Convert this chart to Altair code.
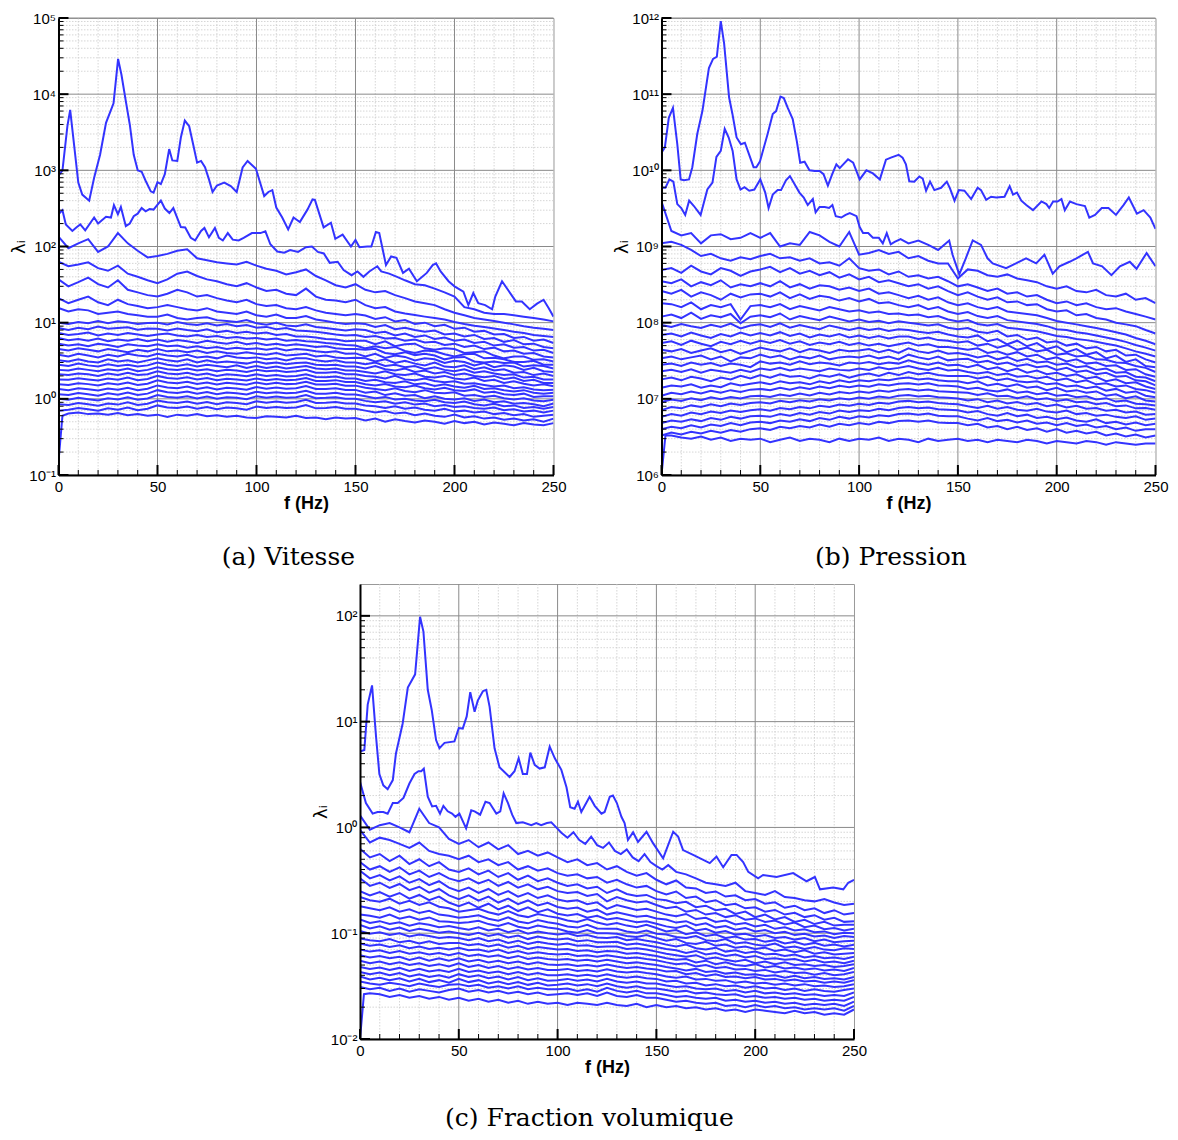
import json
import altair as alt
import pandas as pd

F_GRID = list(range(0, 251, 5))

# ---------------- (a) Vitesse ----------------
vit_mode1 = [(0, 850), (2, 1000), (4.5, 3800), (5.9, 6200), (10, 690), (12, 480), (15.5, 400), (18, 800),
             (21, 1600), (24, 4200), (27.8, 7600), (30.1, 29000), (31.8, 18000), (34, 8100), (36, 4000),
             (38, 1600), (40, 1000), (42, 960), (44, 730), (46.6, 530), (48, 510), (50, 700), (51.7, 660),
             (53.7, 890), (55.9, 1900), (57.5, 1350), (60, 1330), (61.8, 2700), (63.8, 4500), (66, 3800),
             (68, 2200), (70, 1260), (72, 1330), (74, 1100), (76, 760), (77.8, 520), (80, 630), (83.7, 690),
             (87, 620), (90, 520), (93, 1090), (95.5, 1330), (99.7, 1050), (103.9, 460), (106, 520),
             (108, 550), (110, 325), (113, 240), (116, 168), (118.7, 240), (121.9, 210), (125.8, 307),
             (128.3, 415), (129.5, 410), (133.9, 178), (137.6, 205), (139.8, 126), (143.5, 143),
             (147.7, 100), (150, 122), (152, 98), (156, 100), (158, 100), (160.3, 155), (162, 150),
             (165.4, 57), (168, 74), (170.7, 71), (174, 45), (177, 51), (181, 35), (186, 45), (189, 57),
             (190.7, 60), (193, 47), (197, 35), (200, 30), (204.5, 25.5), (207, 17), (209.5, 24.5),
             (212, 18), (215.5, 17), (219, 15), (220.6, 22), (224, 35), (227.4, 26), (231, 19), (234, 19),
             (238, 15), (241.7, 17.8), (245, 20), (247.6, 15.5), (250, 12)]
vit_mode2 = [(0, 265), (2, 300), (3.7, 195), (7, 160), (9, 178), (11, 195), (13.5, 163), (18, 240), (20, 200),
             (24, 245), (26.5, 240), (28, 350), (30, 265), (31.5, 330), (34, 185), (36, 200), (38, 250),
             (40, 270), (42, 320), (44, 290), (46, 310), (48, 305), (51.7, 400), (53.7, 315), (56, 275),
             (58, 320), (61.8, 180), (64, 178), (66.8, 130), (69, 120), (72, 160), (73.7, 175), (76, 132),
             (79, 175), (81, 130), (83, 120), (85.5, 150), (88, 123), (91, 120), (93.5, 130), (97.7, 150),
             (102, 150), (104.5, 158), (107, 107), (110.5, 86), (114, 83), (117, 90), (121, 85), (125, 98),
             (128, 100), (131, 85), (134, 81), (137, 61), (141, 63), (144, 49), (148, 42), (151, 47),
             (154, 40), (157, 47), (161, 55), (163, 47), (167, 44), (171, 40), (175, 36), (180, 32),
             (185, 31), (190, 28), (195, 25), (200, 22), (205, 16), (210, 15), (215, 13.5), (220, 13),
             (225, 13), (230, 12.5), (235, 12), (240, 11.5), (245, 11), (250, 10.4)]
vit_modes_3_26 = [
    [135, 95, 110, 125, 85, 100, 150, 110, 88, 72, 75, 80, 88, 92, 70, 66, 62, 60, 58, 63,
     56, 51, 48, 43, 46, 50, 41, 36, 31, 29, 32, 27, 25, 26, 23, 21, 19, 18, 17, 15,
     13.5, 12.5, 11.5, 11, 10.5, 10, 9.5, 9, 8.6, 8.3, 8.0],
    [63, 55, 58, 62, 52, 48, 56, 44, 40, 36, 33, 37, 44, 47, 41, 37, 35, 32, 30, 33,
     29, 26, 27, 24, 23, 28, 22, 20, 19.5, 18.5, 20, 17, 15.5, 16, 14, 13.2, 12.6, 12, 11.5, 11,
     10.2, 9.6, 9.1, 8.8, 8.4, 8.0, 7.6, 7.3, 6.9, 6.7, 6.5],
    [37, 30, 34, 39, 32, 29, 36, 27, 25, 23, 22, 24, 27, 25, 22, 23, 21, 19.5, 18.5, 20,
     17.5, 16.5, 17, 15.5, 15, 16, 14.5, 13.5, 13, 12.5, 13, 12.4, 11.2, 11.8, 10.4, 10.8, 9.6, 10.0, 9.0, 9.4,
     8.3, 8.6, 7.6, 7.8, 7.0, 7.1, 6.3, 6.5, 5.8, 6.0, 5.4],
    [21, 18, 20, 22, 18.5, 17, 20, 17.5, 16.5, 15.5, 16, 17, 16, 15, 14.5, 15.5, 14, 13.5, 13, 14,
     12.5, 12, 12.8, 11.5, 11.5, 12.2, 11, 10.5, 10, 9.6, 9.8, 9.6, 8.8, 9.3, 8.2, 8.6, 8.0, 7.6, 7.9, 7.0,
     7.2, 6.6, 6.9, 6.1, 6.3, 5.6, 5.9, 5.2, 5.3, 4.8, 4.6],
    [15.6, 14, 15, 14.5, 13, 13.5, 14, 13, 12.5, 12, 12, 12.8, 11.5, 11, 11.5, 11.8, 10.8, 10.5, 10.2, 10.8,
     9.8, 9.4, 10, 9.2, 9.0, 9.5, 8.8, 8.5, 8.2, 7.9, 8.2, 8.0, 7.3, 7.6, 6.8, 7.2, 6.5, 6.8, 6.1, 6.4,
     5.8, 6.0, 5.4, 5.6, 5.0, 5.2, 4.7, 4.8, 4.3, 4.4, 4.0],
    [10, 9.6, 10.2, 9.8, 10.5, 9.8, 10.4, 10.1, 9.6, 9.9, 10, 9.5, 10.2, 9.6, 9.3, 9.8, 9.2, 9.6, 9.0, 9.3,
     8.6, 8.8, 8.2, 8.5, 7.9, 7.8, 7.6, 7.3, 7.0, 6.8, 6.9, 6.5, 6.7, 6.2, 6.3, 5.8, 6.0, 5.5, 5.6, 5.1,
     5.3, 4.8, 5.0, 4.5, 4.7, 4.2, 4.3, 3.9, 4.0, 3.6, 3.5],
    [8.5, 8.0, 8.6, 8.2, 8.9, 8.3, 8.5, 8.7, 8.1, 8.4, 8.3, 7.9, 8.4, 8.0, 7.7, 8.2, 7.5, 7.8, 7.3, 7.6,
     7.2, 7.4, 6.9, 7.1, 6.6, 6.6, 6.4, 6.1, 6.0, 5.7, 5.8, 5.8, 5.2, 5.7, 4.9, 5.2, 5.3, 4.6, 4.4, 4.6,
     4.5, 4.0, 4.1, 4.2, 3.7, 3.4, 3.6, 3.6, 3.25, 3.3, 3.1],
    [7.3, 6.9, 7.1, 7.4, 6.8, 7.2, 6.9, 7.3, 7.0, 6.7, 7.0, 7.2, 6.8, 6.6, 6.9, 6.5, 6.7, 6.3, 6.5, 6.2,
     6.3, 6.0, 6.2, 5.8, 5.9, 5.7, 5.6, 5.4, 5.3, 5.1, 5.0, 4.6, 4.9, 4.6, 4.8, 4.25, 4.0, 4.3, 4.2, 3.85,
     3.6, 3.85, 3.9, 3.4, 3.45, 3.3, 3.05, 3.05, 3.15, 2.8, 2.8],
    [6.3, 5.9, 6.1, 5.8, 6.2, 5.7, 6.0, 5.8, 6.1, 5.7, 6.0, 5.6, 5.9, 5.7, 5.4, 5.8, 5.5, 5.3, 5.6, 5.2,
     5.4, 5.1, 5.3, 5.0, 5.2, 5.0, 4.8, 4.9, 4.6, 4.5, 4.5, 4.4, 4.55, 4.0, 3.85, 4.1, 3.75, 3.9, 3.7, 3.3,
     3.5, 3.55, 3.1, 3.0, 3.1, 2.95, 3.0, 2.65, 2.75, 2.7, 2.5],
    [5.3, 5.0, 5.2, 4.9, 5.3, 5.1, 4.8, 5.2, 5.0, 4.9, 5.2, 4.9, 5.0, 4.7, 4.9, 4.6, 4.8, 4.5, 4.7, 4.5,
     4.6, 4.4, 4.6, 4.3, 4.5, 4.4, 4.2, 4.1, 4.2, 3.9, 3.95, 3.6, 3.9, 3.45, 3.7, 3.55, 3.2, 3.4, 3.3, 2.95,
     3.15, 3.05, 2.75, 2.95, 2.6, 2.75, 2.65, 2.4, 2.55, 2.3, 2.25],
    [4.5, 4.3, 4.6, 4.4, 4.2, 4.5, 4.3, 4.1, 4.4, 4.2, 4.5, 4.2, 4.3, 4.1, 4.3, 4.0, 4.2, 4.0, 3.9, 4.1,
     3.9, 3.8, 4.0, 3.7, 3.8, 3.9, 3.6, 3.7, 3.5, 3.4, 3.45, 3.4, 3.1, 3.3, 2.95, 3.15, 2.9, 2.75, 3.0, 2.65,
     2.6, 2.75, 2.45, 2.6, 2.35, 2.45, 2.2, 2.25, 2.05, 2.15, 2.0],
    [3.8, 3.6, 3.9, 3.7, 3.5, 3.8, 3.6, 3.9, 3.7, 3.6, 3.9, 3.7, 3.6, 3.8, 3.5, 3.6, 3.4, 3.7, 3.5, 3.4,
     3.5, 3.3, 3.4, 3.2, 3.4, 3.4, 3.2, 3.1, 3.2, 3.0, 3.0, 2.85, 3.0, 2.7, 2.8, 2.6, 2.7, 2.45, 2.6, 2.4,
     2.3, 2.45, 2.2, 2.3, 2.15, 2.05, 2.1, 1.9, 1.95, 1.8, 1.8],
    [3.2, 3.1, 3.3, 3.1, 3.0, 3.3, 3.1, 3.2, 3.0, 3.2, 3.4, 3.2, 3.1, 3.3, 3.0, 3.2, 3.0, 3.1, 3.0, 2.9,
     3.1, 2.9, 3.0, 2.85, 2.95, 3.0, 2.8, 2.75, 2.8, 2.65, 2.65, 2.5, 2.7, 2.45, 2.35, 2.5, 2.25, 2.35, 2.15, 2.25,
     2.05, 2.15, 2.0, 1.92, 2.0, 1.82, 1.9, 1.72, 1.78, 1.62, 1.62],
    [2.8, 2.7, 2.9, 2.75, 2.65, 2.85, 2.7, 2.8, 2.65, 2.75, 3.0, 2.8, 2.7, 2.85, 2.65, 2.8, 2.7, 2.6, 2.75, 2.55,
     2.7, 2.55, 2.65, 2.5, 2.6, 2.7, 2.5, 2.45, 2.5, 2.35, 2.35, 2.25, 2.15, 2.3, 2.1, 2.05, 2.15, 1.95, 1.9, 2.0,
     1.85, 1.8, 1.9, 1.72, 1.78, 1.62, 1.7, 1.58, 1.5, 1.55, 1.46],
    [2.4, 2.35, 2.5, 2.4, 2.3, 2.45, 2.35, 2.5, 2.3, 2.4, 2.6, 2.45, 2.4, 2.5, 2.35, 2.45, 2.3, 2.4, 2.35, 2.25,
     2.4, 2.3, 2.35, 2.25, 2.3, 2.4, 2.2, 2.2, 2.25, 2.1, 2.1, 2.0, 1.95, 1.85, 2.0, 1.8, 1.75, 1.85, 1.72, 1.65,
     1.7, 1.58, 1.6, 1.52, 1.45, 1.5, 1.38, 1.42, 1.33, 1.3, 1.32],
    [2.1, 2.05, 2.15, 2.1, 2.0, 2.15, 2.05, 2.2, 2.05, 2.1, 2.3, 2.15, 2.1, 2.2, 2.05, 2.15, 2.0, 2.1, 2.05, 1.98,
     2.1, 2.0, 2.05, 1.97, 2.0, 2.1, 1.93, 1.92, 1.96, 1.85, 1.85, 1.72, 1.78, 1.65, 1.62, 1.7, 1.55, 1.6, 1.48, 1.55,
     1.45, 1.4, 1.48, 1.35, 1.38, 1.3, 1.25, 1.3, 1.2, 1.17, 1.2],
    [1.8, 1.78, 1.86, 1.8, 1.74, 1.85, 1.78, 1.9, 1.76, 1.82, 2.0, 1.88, 1.84, 1.92, 1.8, 1.88, 1.76, 1.84, 1.8, 1.74,
     1.85, 1.76, 1.82, 1.75, 1.78, 1.88, 1.72, 1.72, 1.76, 1.66, 1.66, 1.55, 1.5, 1.57, 1.45, 1.42, 1.5, 1.38, 1.33, 1.4,
     1.3, 1.27, 1.33, 1.2, 1.24, 1.15, 1.12, 1.17, 1.06, 1.08, 1.08],
    [1.55, 1.52, 1.6, 1.56, 1.5, 1.6, 1.54, 1.64, 1.52, 1.58, 1.75, 1.64, 1.6, 1.68, 1.57, 1.64, 1.54, 1.62, 1.58, 1.53,
     1.64, 1.56, 1.62, 1.56, 1.58, 1.68, 1.54, 1.54, 1.58, 1.49, 1.49, 1.4, 1.35, 1.3, 1.38, 1.27, 1.22, 1.3, 1.2, 1.18,
     1.22, 1.1, 1.12, 1.06, 1.1, 1.02, 0.98, 1.02, 0.95, 0.93, 0.97],
    [1.35, 1.3, 1.38, 1.34, 1.29, 1.37, 1.32, 1.4, 1.3, 1.36, 1.5, 1.41, 1.38, 1.45, 1.35, 1.42, 1.33, 1.4, 1.37, 1.32,
     1.43, 1.36, 1.41, 1.36, 1.38, 1.47, 1.35, 1.35, 1.38, 1.31, 1.31, 1.2, 1.25, 1.12, 1.18, 1.1, 1.12, 1.02, 1.08, 1.0,
     0.98, 1.02, 0.94, 0.98, 0.9, 0.93, 0.86, 0.88, 0.85, 0.8, 0.87],
    [1.15, 1.12, 1.19, 1.15, 1.1, 1.18, 1.13, 1.21, 1.12, 1.17, 1.3, 1.22, 1.19, 1.25, 1.17, 1.23, 1.15, 1.21, 1.18, 1.14,
     1.24, 1.18, 1.22, 1.18, 1.2, 1.28, 1.17, 1.17, 1.2, 1.14, 1.14, 1.08, 1.02, 1.06, 0.98, 1.0, 0.95, 0.93, 0.97, 0.9,
     0.88, 0.92, 0.85, 0.82, 0.86, 0.8, 0.82, 0.76, 0.78, 0.74, 0.78],
    [1.0, 0.97, 1.03, 0.99, 0.95, 1.02, 0.98, 1.05, 0.97, 1.01, 1.12, 1.06, 1.03, 1.08, 1.01, 1.07, 1.0, 1.05, 1.03, 0.99,
     1.08, 1.03, 1.07, 1.03, 1.05, 1.12, 1.02, 1.03, 1.05, 1.0, 1.0, 0.94, 0.9, 0.93, 0.86, 0.9, 0.84, 0.87, 0.8, 0.83,
     0.78, 0.8, 0.76, 0.74, 0.77, 0.71, 0.73, 0.68, 0.7, 0.66, 0.7],
    [0.85, 0.83, 0.88, 0.85, 0.81, 0.87, 0.84, 0.9, 0.83, 0.86, 0.95, 0.9, 0.88, 0.92, 0.86, 0.91, 0.85, 0.9, 0.88, 0.85,
     0.93, 0.89, 0.92, 0.89, 0.91, 0.97, 0.88, 0.89, 0.91, 0.87, 0.87, 0.82, 0.8, 0.76, 0.8, 0.74, 0.77, 0.72, 0.7, 0.74,
     0.68, 0.7, 0.66, 0.68, 0.63, 0.65, 0.61, 0.63, 0.58, 0.6, 0.62],
    [0.7, 0.72, 0.76, 0.73, 0.7, 0.75, 0.72, 0.77, 0.71, 0.74, 0.82, 0.77, 0.76, 0.79, 0.74, 0.78, 0.73, 0.77, 0.75, 0.72,
     0.79, 0.76, 0.78, 0.76, 0.77, 0.83, 0.75, 0.76, 0.78, 0.74, 0.74, 0.7, 0.66, 0.69, 0.64, 0.66, 0.61, 0.64, 0.6, 0.58,
     0.62, 0.57, 0.59, 0.55, 0.57, 0.53, 0.55, 0.52, 0.54, 0.5, 0.55],
    [0.15, 0.64, 0.66, 0.63, 0.64, 0.62, 0.65, 0.61, 0.63, 0.6, 0.62, 0.58, 0.62, 0.6, 0.63, 0.59, 0.61, 0.58, 0.6, 0.57,
     0.56, 0.59, 0.58, 0.57, 0.6, 0.56, 0.57, 0.54, 0.57, 0.55, 0.56, 0.52, 0.55, 0.5, 0.54, 0.51, 0.49, 0.52, 0.5, 0.47,
     0.51, 0.48, 0.5, 0.46, 0.49, 0.47, 0.45, 0.48, 0.46, 0.45, 0.48],
]
vit_last_mode_rise = [(2, 0.6)]

# ---------------- (b) Pression  (values in units of 1e6) ----------------
pres_mode1 = [(0, 17000), (1.7, 20000), (3.7, 49000), (5.8, 66000), (8, 22000), (9.7, 7600), (11.4, 7400),
              (13.9, 7600), (15.6, 11000), (18.1, 30000), (20.7, 60000), (24, 220000), (26.1, 290000),
              (28, 310000), (30, 910000), (31.7, 460000), (34.2, 91000), (35.9, 55000), (38, 27000),
              (40.2, 22000), (42.2, 23000), (44.4, 16000), (46.6, 11000), (48, 11000), (49.8, 13000),
              (53.7, 30000), (56.3, 55000), (58, 60000), (60.2, 93000), (61.9, 89000), (63.9, 66000),
              (66.4, 47000), (68.5, 24000), (70.2, 12600), (72.4, 13000), (74.9, 10000), (77.5, 9800),
              (80, 9800), (82, 8900), (84.2, 6300), (86.4, 8900), (88.5, 12000), (90.2, 10700), (94.4, 14000),
              (97, 12600), (100.3, 7600), (103.7, 10000), (107, 9100), (110.5, 7600), (113.6, 13800),
              (116.1, 14700), (120, 16000), (122, 14700), (123.7, 12000), (125.4, 7200), (127.9, 7100),
              (130.5, 8300), (132.2, 7800), (133.9, 5400), (135.9, 7100), (138.1, 5500), (141.5, 5900),
              (144.4, 7100), (146, 5800), (148.3, 4000), (150.5, 5500), (153.3, 5400), (156.7, 4200),
              (160, 5900), (161.7, 5500), (164.3, 4100), (166.8, 4500), (169.4, 4400), (173.6, 4500),
              (176.2, 6200), (177.9, 4800), (179.9, 5100), (182.1, 4000), (184.6, 3500), (188, 3000),
              (192.3, 3900), (194.8, 3600), (196.2, 3200), (198.2, 3900), (200.4, 3900), (202.4, 4200),
              (204.1, 3000), (206.7, 3900), (210, 3600), (214.3, 3400), (216.5, 2400), (219.4, 2600),
              (222.8, 3200), (226.2, 3200), (230, 2600), (233.8, 3500), (236.5, 4400), (240.6, 2700),
              (244, 3000), (247.4, 2400), (250, 1700)]
pres_mode2 = [(0, 5900), (2, 5900), (4, 7600), (6, 7100), (8, 3600), (10, 3200), (12, 2600), (14, 4000),
              (16.4, 3400), (19.8, 2600), (23.2, 5600), (25.8, 6900), (27.8, 15000), (30, 18000), (32, 35000),
              (34, 27000), (36, 18000), (38, 7600), (40, 5600), (42, 6000), (44.4, 5400), (47, 5600),
              (50, 7600), (52.5, 5100), (54.2, 3200), (56.3, 4800), (58.8, 5500), (60.5, 5500), (63, 7400),
              (65, 8400), (67.3, 6600), (69.8, 5100), (72, 4400), (74, 3500), (76.6, 4200), (78, 2800),
              (80, 3300), (82.6, 3300), (84.8, 3200), (86.5, 3500), (88.2, 2500), (91, 2400), (93.2, 2600),
              (95.3, 2750), (98.7, 2500), (100.3, 1800), (102, 1500), (104.6, 1500), (107, 1300), (110, 1300),
              (112, 1100), (114, 1500), (116, 1070), (118, 1150), (121, 1250), (125, 1100), (130, 1200),
              (135, 1050), (140, 900), (145.6, 1200), (147.3, 780), (150.7, 430), (154, 700), (157.5, 1200),
              (161.7, 1050), (165, 700), (167.6, 600), (174.4, 520), (179.4, 600), (184.5, 700), (189.6, 600),
              (193.8, 780), (198, 440), (201.4, 550), (206.5, 630), (210, 700), (215.8, 850), (218.4, 600),
              (223, 550), (227.7, 420), (232, 550), (237, 630), (240.4, 510), (245.5, 820), (250, 550)]
pres_modes_3_26 = [
    [3900, 1600, 1400, 1500, 1100, 1400, 1450, 1250, 1300, 1500, 1300, 1500, 1000, 1100, 1050, 1550, 1400, 1150, 1000, 1550,
     780, 820, 900, 800, 850, 700, 750, 650, 600, 600, 380, 500, 480, 420, 400, 430, 380, 360, 340, 300,
     280, 300, 260, 250, 270, 230, 220, 240, 200, 210, 180],
    [1100, 1150, 1050, 900, 750, 800, 700, 650, 720, 680, 750, 800, 700, 720, 650, 700, 600, 620, 560, 700,
     520, 480, 500, 430, 470, 400, 420, 380, 400, 350, 300, 320, 290, 260, 280, 240, 250, 220, 230, 200,
     180, 190, 170, 180, 160, 150, 155, 140, 130, 120, 110],
    [490, 520, 450, 560, 470, 430, 520, 480, 410, 470, 500, 540, 460, 520, 440, 480, 420, 460, 390, 430,
     370, 400, 340, 360, 330, 300, 320, 280, 300, 260, 230, 250, 220, 200, 215, 185, 190, 170, 175, 150,
     140, 145, 125, 130, 115, 110, 100, 95, 90, 80, 72],
    [350, 330, 370, 300, 340, 310, 360, 290, 320, 300, 330, 300, 350, 290, 320, 280, 310, 300, 270, 290,
     260, 280, 240, 250, 230, 210, 225, 200, 215, 185, 170, 180, 160, 150, 160, 140, 135, 130, 125, 115,
     105, 100, 95, 90, 85, 80, 75, 70, 63, 58, 52],
    [260, 240, 270, 220, 250, 230, 200, 240, 215, 235, 240, 220, 250, 210, 235, 205, 225, 215, 195, 210,
     190, 205, 180, 185, 170, 160, 170, 150, 160, 140, 130, 138, 122, 115, 122, 108, 104, 100, 96, 90,
     82, 80, 75, 72, 68, 64, 60, 56, 51, 47, 43],
    [180, 175, 160, 185, 150, 170, 160, 175, 110, 165, 170, 160, 175, 150, 165, 155, 145, 160, 150, 140,
     145, 135, 140, 130, 132, 125, 128, 118, 122, 110, 104, 108, 96, 92, 96, 86, 83, 80, 77, 72,
     67, 65, 61, 59, 56, 53, 50, 46, 42, 39, 36],
    [120, 128, 115, 135, 112, 125, 118, 130, 98, 120, 125, 118, 132, 110, 122, 114, 108, 120, 112, 104,
     110, 102, 106, 98, 104, 100, 96, 92, 95, 86, 82, 85, 76, 73, 78, 66, 69, 60, 64, 55,
     57, 50, 53, 46, 48, 42, 44, 37, 38, 33, 30],
    [93, 88, 96, 90, 85, 94, 88, 97, 84, 92, 95, 88, 98, 86, 93, 87, 82, 92, 86, 80,
     86, 80, 84, 78, 82, 80, 76, 73, 76, 70, 66, 64, 68, 57, 61, 52, 58, 49, 54, 45,
     49, 41, 45, 38, 41, 34, 37, 30.5, 33, 27, 26],
    [69, 72, 66, 74, 68, 63, 71, 66, 74, 68, 73, 68, 75, 67, 72, 64, 70, 66, 71, 64,
     68, 63, 67, 62, 66, 66, 61, 64, 59, 58, 55, 57, 50, 53, 47, 51, 44, 47, 42, 44,
     38, 39.5, 36, 37, 33, 32.5, 30, 29.5, 27, 25.5, 22.5],
    [54, 57, 51, 58, 53, 49, 56, 52, 58, 53, 58, 54, 59, 53, 57, 51, 55, 52, 56, 51,
     54, 50, 53, 49, 52, 55, 50, 52, 48, 48, 46, 44, 46, 40, 42, 38, 41, 36, 38, 33,
     35, 31, 33, 29, 30, 27, 27.5, 24, 24.5, 21, 19.5],
    [44, 42, 45, 40, 43, 46, 41, 44, 39, 43, 47, 44, 42, 46, 41, 45, 43, 40, 44, 42,
     43, 45, 41, 44, 40, 46, 42, 40, 43, 39, 40, 38, 35, 37, 33, 35.5, 31.5, 33.5, 30, 31,
     28, 29, 26, 27, 24, 25, 22, 22.5, 19.5, 19, 17],
    [34, 36, 33, 35, 37, 33, 36, 31, 35, 34, 38, 35, 37, 33, 36, 34, 37, 33, 35, 36,
     35, 37, 34, 36, 33, 38, 35, 33, 36, 32, 33, 33.5, 30, 31.5, 28.5, 30, 27, 28.5, 26, 27,
     24, 25.5, 22.5, 23.5, 21, 22, 19.5, 20, 17.5, 17, 15],
    [28, 29, 27, 30, 28, 29.5, 27, 29, 28, 26, 31, 29, 30, 28, 31, 28.5, 30, 29, 27.5, 30,
     29, 30.5, 28.5, 30, 29, 32, 29.5, 28, 30, 27.5, 28, 26, 28, 24.5, 26, 23, 25, 22, 23.5, 21,
     22, 20, 21, 18.5, 19.5, 17, 18, 16, 16.5, 14.5, 13.5],
    [23, 24, 22.5, 24.5, 22, 24, 23, 22, 24, 22.5, 25, 24, 25.5, 23.5, 25, 24, 23, 25, 24, 23.5,
     25, 24, 26, 24.5, 25.5, 27, 25, 24, 25.5, 23.5, 24, 22.5, 21.5, 22.5, 20.5, 21.5, 19.5, 20, 18.5, 19.5,
     17.5, 18.5, 16.5, 17.5, 15.5, 16, 14.5, 15, 13.5, 13, 12],
    [18, 19, 17.5, 19.5, 18.5, 17, 19, 18, 20, 18.5, 20.5, 19, 21, 19.5, 20, 18.5, 20.5, 19.5, 21, 19,
     20.5, 21.5, 20, 22, 20.5, 22.5, 21, 22, 20.5, 20, 20, 20, 18.5, 19.5, 17.5, 18.5, 17, 16.5, 17, 15.5,
     16, 14.5, 15, 13.8, 14.5, 12.8, 13.5, 12, 12.5, 11, 10.5],
    [14, 15, 14.5, 15.5, 14, 15, 14.2, 16, 15, 15.8, 16.5, 15.5, 17, 16, 16.5, 15.5, 17, 16, 17.5, 16.5,
     17.5, 17, 18, 17.5, 18.5, 19, 18, 18.5, 17.5, 17, 17, 16, 17, 15, 15.8, 14.5, 15.5, 14, 14.5, 13,
     14, 12.5, 13, 12, 12.5, 11, 11.5, 10.2, 10.8, 9.5, 9.2],
    [11, 12, 11.5, 12.5, 11.8, 12.8, 12, 13, 12.3, 13.2, 13.5, 13, 14, 13.2, 14.2, 13.5, 14.5, 13.8, 14.8, 14.2,
     15, 14.4, 15.5, 15, 15.8, 16, 15.4, 16, 15, 14.8, 14.5, 13.5, 14, 13, 12.5, 13.3, 12, 12.5, 11.5, 12,
     11, 11.3, 10.5, 10.8, 9.8, 10.2, 9.2, 9.5, 8.6, 8.5, 8.2],
    [9.1, 9.8, 9.4, 10.2, 9.6, 10.5, 9.9, 10.6, 10.1, 10.8, 11, 10.6, 11.4, 10.9, 11.7, 11.1, 12, 11.4, 12.3, 11.8,
     12.5, 12, 12.9, 12.4, 13.2, 13.5, 12.9, 13.3, 12.6, 12.4, 12.2, 12, 11.2, 11.8, 10.8, 11, 10.2, 10.8, 9.8, 10.2,
     9.4, 9.8, 9, 9.2, 8.5, 8.8, 8, 8.2, 7.5, 7.6, 7.2],
    [7.1, 7.8, 7.5, 8.2, 7.8, 8.5, 8.0, 8.7, 8.3, 8.8, 9.0, 8.7, 9.4, 9.0, 9.6, 9.2, 9.9, 9.5, 10.2, 9.8,
     10.4, 10, 10.7, 10.3, 11, 11.2, 10.7, 11, 10.5, 10.3, 10.1, 9.5, 9.9, 9.0, 9.5, 8.7, 9.1, 8.4, 8.8, 8.0,
     8.4, 7.7, 8.1, 7.4, 7.6, 7.0, 7.2, 6.6, 6.8, 6.2, 6.3],
    [5.8, 6.3, 6.0, 6.6, 6.3, 6.8, 6.5, 7.0, 6.7, 7.1, 7.3, 7.0, 7.6, 7.3, 7.8, 7.5, 8.1, 7.8, 8.4, 8.1,
     8.6, 8.3, 8.9, 8.6, 9.2, 9.4, 9.0, 9.2, 8.8, 8.6, 8.5, 8.0, 7.6, 8.1, 7.4, 7.8, 7.2, 7.0, 7.4, 6.8,
     6.6, 7.0, 6.3, 6.5, 6.0, 6.2, 5.8, 5.6, 5.9, 5.3, 5.5],
    [4.8, 5.2, 5.0, 5.4, 5.1, 5.6, 5.3, 5.8, 5.5, 5.9, 6.0, 5.8, 6.3, 6.0, 6.5, 6.2, 6.7, 6.4, 7.0, 6.7,
     7.1, 6.9, 7.4, 7.1, 7.6, 7.8, 7.5, 7.7, 7.3, 7.2, 7.1, 6.6, 6.9, 6.3, 6.0, 6.5, 5.9, 6.2, 5.6, 5.8,
     5.4, 5.7, 5.2, 5.0, 5.4, 4.8, 5.0, 4.6, 4.9, 4.5, 4.7],
    [4.0, 4.3, 4.1, 4.5, 4.2, 4.6, 4.4, 4.8, 4.5, 4.9, 5.0, 4.8, 5.2, 5.0, 5.4, 5.1, 5.6, 5.3, 5.8, 5.5,
     5.9, 5.7, 6.1, 5.9, 6.3, 6.4, 6.2, 6.4, 6.0, 5.9, 5.9, 5.5, 5.2, 5.6, 5.1, 5.3, 4.9, 5.2, 4.7, 4.9,
     4.5, 4.8, 4.4, 4.6, 4.2, 4.4, 4.0, 4.2, 3.8, 4.0, 4.0],
    [3.3, 3.6, 3.4, 3.7, 3.5, 3.8, 3.6, 3.9, 3.7, 4.0, 4.1, 3.9, 4.3, 4.1, 4.4, 4.2, 4.6, 4.3, 4.7, 4.5,
     4.8, 4.6, 5.0, 4.8, 5.1, 5.2, 5.0, 5.2, 4.9, 4.8, 4.8, 4.5, 4.7, 4.2, 4.4, 4.0, 4.3, 3.9, 4.1, 3.7,
     4.0, 3.6, 3.8, 3.5, 3.7, 3.3, 3.5, 3.2, 3.4, 3.1, 3.3],
    [1.0, 3.3, 3.1, 3.0, 3.2, 2.9, 3.1, 2.8, 3.0, 2.9, 3.0, 2.7, 2.9, 3.1, 2.8, 3.0, 2.9, 2.7, 3.0, 2.8,
     3.0, 2.9, 3.1, 2.8, 3.0, 2.9, 2.7, 3.0, 2.8, 2.9, 3.0, 2.8, 2.9, 2.7, 2.9, 2.8, 2.7, 2.9, 2.8, 2.6,
     2.8, 2.7, 2.6, 2.8, 2.7, 2.5, 2.7, 2.6, 2.5, 2.6, 2.6],
]
pres_last_mode_rise = [(2, 3.3)]

# ---------------- (c) Fraction volumique  (values in units of 1e-3) ----------------
frac_mode1 = [(0, 5200), (2.2, 5400), (3.9, 14500), (6.1, 22000), (8.1, 7300), (9.8, 3200), (11.8, 2500),
              (14, 2300), (16.6, 2800), (18.2, 5000), (21.6, 9600), (24.2, 21000), (27.9, 28000),
              (30.4, 98000), (32.1, 71000), (34.3, 20000), (36.3, 12900), (38.5, 6700), (40.2, 5600),
              (42.8, 6300), (47.8, 6500), (50, 8700), (52, 8600), (54, 11200), (55.8, 19000), (58, 12400),
              (59.6, 15800), (62.2, 19400), (63.9, 20000), (65.6, 13800), (68.1, 5600), (70.6, 3700),
              (75.7, 3000), (78.2, 3400), (80.3, 4500), (82.4, 3200), (84.5, 3200), (86.2, 5100), (88.4, 3900),
              (90.9, 3600), (93.5, 3700), (96, 5800), (98.6, 4500), (101.9, 3500), (104.5, 2400), (106.4, 1550),
              (108.6, 1500), (110.3, 1750), (112, 1400), (116.2, 1950), (118.8, 1600), (122.2, 1350),
              (123.8, 1400), (126.4, 1950), (128, 2000), (130, 1700), (132.3, 1260), (133.9, 1100),
              (135.6, 760), (138.2, 900), (140.7, 730), (145, 910), (148.3, 710), (153.4, 510), (158.5, 910),
              (161, 820), (163.5, 610), (168.6, 550), (177, 460), (180.4, 530), (183.8, 420), (188, 550),
              (190.6, 550), (193.9, 470), (196.5, 380), (201.5, 330), (204, 355), (210.8, 340), (219.2, 370),
              (226, 310), (230.2, 340), (232.8, 260), (239.5, 270), (244.6, 260), (247.1, 300), (250, 320)]
frac_mode2 = [(0, 2700), (3, 1700), (6.4, 1350), (8.9, 1400), (11.8, 1400), (14, 1350), (16.6, 1700),
              (19.1, 1700), (22, 1900), (25, 2600), (27.6, 3200), (29.6, 3400), (31, 3400), (32.3, 3600),
              (34.3, 1950), (36.5, 1580), (38.5, 1600), (40.5, 1350), (42.2, 1600), (44.4, 1420), (46.6, 1350),
              (48.3, 1260), (50.3, 1350), (53.7, 980), (56.3, 1450), (58, 1420), (60.8, 1320), (63.5, 1750),
              (65.6, 1700), (69, 1350), (71, 1420), (72.7, 2100), (74.9, 1700), (77, 1320), (79.1, 1100),
              (82.4, 1120), (86.7, 1050), (89.2, 1100), (91.7, 1050), (94.6, 1100), (96.8, 1120), (99.3, 1000),
              (101.9, 890), (105, 800), (108, 900), (111, 760), (114, 700), (117, 820), (120, 680), (123, 640),
              (126, 720), (129, 600), (132, 560), (135, 620), (138, 520), (141, 480), (144, 560), (147, 470),
              (150, 430), (153, 400), (156, 440), (160, 380), (165, 360), (170, 330), (175, 300), (180, 290),
              (185, 280), (190, 300), (195, 250), (200, 240), (205, 230), (210, 250), (215, 220), (220, 215),
              (225, 205), (230, 200), (235, 210), (240, 195), (245, 185), (250, 190)]
frac_modes_3_26 = [
    [1300, 950, 1050, 1100, 1000, 900, 1500, 1100, 1000, 780, 700, 760, 650, 720, 620, 680, 560, 600, 540, 580,
     520, 470, 500, 440, 460, 400, 430, 380, 350, 370, 320, 290, 315, 270, 265, 240, 248, 222, 228, 205,
     210, 190, 196, 174, 182, 165, 172, 155, 165, 150, 155],
    [950, 720, 800, 760, 700, 640, 720, 600, 560, 540, 500, 540, 470, 500, 440, 470, 400, 430, 390, 410,
     370, 350, 360, 330, 340, 300, 320, 290, 270, 280, 250, 232, 248, 215, 222, 196, 205, 184, 190, 172,
     176, 160, 166, 150, 156, 142, 148, 134, 140, 128, 130],
    [630, 520, 560, 480, 540, 450, 500, 430, 470, 400, 380, 410, 360, 390, 340, 370, 320, 350, 310, 330,
     300, 280, 290, 265, 275, 240, 260, 235, 225, 230, 210, 205, 192, 198, 176, 182, 165, 170, 152, 160,
     142, 150, 135, 142, 128, 134, 122, 128, 118, 120, 120],
    [470, 400, 430, 380, 420, 360, 390, 340, 370, 330, 310, 330, 295, 320, 280, 305, 270, 290, 260, 275,
     250, 240, 245, 225, 235, 200, 220, 205, 195, 200, 185, 172, 178, 160, 166, 150, 155, 142, 148, 134,
     138, 128, 132, 121, 126, 114, 118, 109, 112, 106, 110],
    [390, 330, 355, 315, 345, 300, 325, 285, 310, 270, 250, 270, 240, 262, 230, 250, 222, 240, 215, 228,
     208, 200, 205, 188, 196, 170, 185, 175, 166, 170, 160, 150, 145, 152, 136, 140, 128, 132, 121, 125,
     116, 120, 110, 114, 106, 109, 102, 104, 98, 101, 100],
    [330, 280, 300, 268, 292, 255, 275, 242, 262, 228, 210, 228, 203, 222, 195, 212, 188, 204, 183, 194,
     177, 170, 175, 160, 167, 150, 158, 150, 143, 146, 138, 135, 126, 130, 119, 124, 113, 117, 108, 112,
     104, 107, 100, 103, 96, 99, 93, 95, 90, 94, 92],
    [250, 228, 245, 222, 240, 212, 230, 205, 222, 195, 180, 195, 174, 190, 168, 182, 162, 176, 158, 168,
     153, 147, 152, 140, 146, 135, 139, 133, 127, 130, 123, 116, 112, 118, 106, 110, 101, 105, 97, 99,
     93, 96, 90, 92, 87, 90, 84, 87, 82, 84, 85],
    [220, 205, 198, 212, 190, 202, 185, 196, 178, 172, 160, 165, 170, 158, 150, 162, 148, 142, 152, 145,
     140, 132, 128, 136, 126, 120, 125, 118, 114, 120, 112, 104, 107, 98, 102, 94, 97, 90, 93, 87,
     88, 83, 86, 80, 83, 78, 81, 76, 78, 75, 78],
    [180, 172, 165, 176, 160, 168, 155, 163, 150, 146, 140, 143, 148, 137, 131, 141, 129, 124, 133, 127,
     123, 116, 113, 120, 111, 110, 110, 104, 101, 106, 99, 97, 92, 90, 94, 86, 84, 88, 80, 82,
     78, 76, 80, 73, 75, 71, 74, 70, 69, 72, 71],
    [150, 146, 140, 150, 137, 144, 134, 141, 130, 128, 125, 127, 131, 122, 117, 125, 115, 111, 118, 113,
     110, 104, 101, 107, 100, 100, 99, 94, 92, 96, 90, 85, 88, 81, 79, 83, 76, 78, 73, 75,
     71, 73, 68, 70, 66, 69, 64, 66, 63, 64, 65],
    [135, 125, 130, 122, 127, 118, 124, 120, 114, 117, 112, 108, 114, 106, 110, 102, 107, 99, 104, 100,
     97, 100, 94, 96, 91, 90, 92, 86, 88, 85, 82, 78, 75, 78, 72, 70, 73, 67, 69, 65,
     67, 63, 64, 61, 63, 59, 61, 58, 59, 57, 60],
    [120, 111, 116, 108, 113, 105, 110, 106, 101, 104, 100, 96, 101, 94, 98, 91, 95, 88, 93, 89,
     87, 89, 84, 86, 82, 82, 83, 78, 80, 77, 74, 71, 69, 65, 68, 63, 65, 61, 63, 59,
     61, 57, 58, 56, 57, 54, 56, 53, 54, 52, 55],
    [105, 99, 102, 96, 100, 93, 97, 94, 90, 92, 90, 86, 90, 84, 87, 81, 85, 79, 83, 80,
     78, 80, 76, 77, 74, 75, 75, 71, 72, 70, 67, 64, 62, 60, 62, 57, 59, 56, 54, 56,
     52, 54, 51, 53, 50, 51, 49, 50, 48, 49, 51],
    [89, 86, 84, 88, 82, 85, 80, 84, 79, 81, 81, 77, 79, 75, 78, 73, 76, 71, 74, 72,
     70, 71, 68, 69, 66, 68, 67, 64, 65, 63, 61, 58, 56, 57, 53, 55, 51, 53, 50, 49,
     51, 47.5, 49, 46.5, 47.5, 45.5, 46.5, 44.5, 45.5, 44, 47],
    [80, 76, 78, 74, 77, 72, 75, 71, 73, 70, 73, 69, 70, 67, 70, 65, 68, 64, 66, 64,
     63, 64, 61, 62, 60, 62, 60, 58, 59, 57, 55.5, 53, 51, 52, 48.5, 50, 47, 48, 45.5, 46,
     44, 45, 42.5, 44, 42, 42.5, 40.5, 42, 40, 41, 43],
    [70, 67, 69, 65, 68, 64, 66, 63, 65, 62, 65, 61, 63, 60, 62, 58, 61, 57, 59, 57,
     56, 57, 55, 56, 54, 56, 54, 52, 53, 51.5, 50, 48, 46.5, 44.5, 46, 43, 44, 41.5, 42.5, 40.5,
     41, 39.5, 40, 38, 39.5, 37.5, 38.5, 37, 37.5, 36.5, 38.5],
    [62, 59, 61, 58, 60, 56, 59, 55, 58, 55, 58, 54, 56, 53, 55, 52, 54, 51, 53, 50.5,
     50, 51, 49, 50, 48.5, 50.5, 48.5, 47, 48, 46.5, 45.5, 43.5, 44, 41, 42, 39.5, 41, 38.5, 39, 37.5,
     38.5, 36.5, 37, 35.5, 36.5, 35, 35.5, 34, 35, 34, 36],
    [55, 52, 54, 51, 53, 50, 52, 49, 51, 48.5, 52, 48, 50, 47, 49, 46, 48, 45.5, 47, 45,
     45, 46, 44, 45, 43.5, 45.5, 43.5, 42.5, 43.5, 42, 41, 39, 38, 39, 36.5, 37, 35.5, 36, 34, 35,
     33.5, 34, 32.5, 33.5, 32, 33, 31.5, 32, 31, 31.5, 33],
    [48, 46, 47.5, 45, 47, 44, 46, 43.5, 45, 43, 46, 43, 44.5, 42, 43.5, 41, 43, 40.5, 42, 40,
     40, 41, 39.5, 40.5, 39, 41, 39, 38, 39, 37.5, 37, 35, 35.5, 33.5, 34, 32, 33, 31.5, 32, 30.5,
     31.5, 30, 30.5, 29, 30, 28.5, 29.5, 28.5, 28, 29, 30],
    [43, 41, 42.5, 40, 42, 39, 41, 38.5, 40, 38, 41, 38.5, 40, 37.5, 39, 36.5, 38.5, 36, 37.5, 35.5,
     36, 37, 35.5, 36.5, 35, 37, 35, 34, 35, 33.5, 33.5, 32, 31, 31.5, 30, 29.5, 30, 28.5, 29, 27.5,
     28.5, 27, 27.5, 26.5, 27, 26, 26.5, 25.5, 26, 25.5, 27.5],
    [39, 36.5, 38, 36, 37.5, 35, 37, 34.5, 36, 34, 37, 34.5, 36, 33.5, 35, 33, 34.5, 32.5, 34, 32,
     32.5, 33.5, 32, 33, 31.5, 33.5, 31.5, 30.5, 31.5, 30, 30, 29, 28, 28.5, 27, 27.5, 26.5, 26, 26.5, 25,
     25.5, 24.5, 25, 24, 24.5, 23.5, 24, 23, 23.5, 23, 25],
    [35, 33.5, 32.5, 34, 33, 31.5, 33.5, 32, 31, 32.5, 33, 31.5, 32.5, 30.5, 31.5, 30, 31.5, 29.5, 30.5, 29.5,
     29.5, 30, 28.5, 29.5, 28, 30.5, 28.5, 27.5, 28.5, 27, 27, 26, 25, 25.5, 24.5, 24, 24.5, 23, 23.5, 22.5,
     23, 22, 22.5, 21.5, 22, 21, 21.5, 21, 21.5, 20.5, 22.5],
    [31, 29.5, 30.5, 28.5, 30, 28, 29.5, 28.5, 27.5, 29, 30, 28, 29, 27.5, 28.5, 27, 28, 26.5, 27.5, 26,
     26.5, 27, 26, 27, 25.5, 27.5, 25.5, 25, 26, 24.5, 24.5, 23.5, 22.5, 23, 22, 21.5, 22, 20.5, 21, 20,
     21, 20, 20.5, 19.5, 20, 19, 19.5, 19, 19.5, 18.5, 20.5],
    [10, 27, 26.5, 25, 26, 24.5, 25.5, 24, 25, 23.5, 24.5, 23, 24, 22.5, 23.5, 22, 23, 21.5, 22.5, 21.5,
     22, 21, 22, 21.5, 21, 22, 21, 20.5, 21.5, 20, 21, 20, 20.5, 19.5, 20, 19, 19.5, 18.5, 19, 18,
     19, 18.5, 18, 17.5, 18.5, 17.5, 18, 17, 17.5, 17, 19],
]
frac_last_mode_rise = [(2, 26.5)]

# ---------------- tidy table ----------------
def build_rows(panel, pair_modes, grid_modes, last_rise, unit):
    rows = []
    for k, pairs in enumerate(pair_modes, start=1):
        for f, v in pairs:
            rows.append({"panel": panel, "mode": k, "f": f, "v": v * unit})
    for k, vals in enumerate(grid_modes, start=len(pair_modes) + 1):
        assert len(vals) == len(F_GRID), (panel, k, len(vals))
        for f, v in zip(F_GRID, vals):
            rows.append({"panel": panel, "mode": k, "f": f, "v": v * unit})
    last = len(pair_modes) + len(grid_modes)
    for f, v in last_rise:
        rows.append({"panel": panel, "mode": last, "f": f, "v": v * unit})
    return rows

rows = (build_rows("a", [vit_mode1, vit_mode2], vit_modes_3_26, vit_last_mode_rise, 1.0)
        + build_rows("b", [pres_mode1, pres_mode2], pres_modes_3_26, pres_last_mode_rise, 1e6)
        + build_rows("c", [frac_mode1, frac_mode2], frac_modes_3_26, frac_last_mode_rise, 1e-3))
df = pd.DataFrame(rows)

SUP = ["⁻²", "⁻¹", "⁰", "¹", "²", "³", "⁴", "⁵", "⁶", "⁷", "⁸", "⁹", "¹⁰", "¹¹", "¹²"]
LABEL_EXPR = "'10' + " + json.dumps(SUP, ensure_ascii=False) + "[round(log(datum.value) / LN10) + 2]"

BLUE = "#3333ff"
X_MAJOR = [0, 50, 100, 150, 200, 250]
X_MINOR = [v for v in range(10, 250, 10) if v % 50]


def make_panel(key, e_lo, e_hi, ymax, caption, width, height, cap_offset):
    ymin = 10.0 ** e_lo
    decades = [10.0 ** e for e in range(e_lo, e_hi + 1)]
    minor = [k * 10.0 ** e for e in range(e_lo, e_hi + 1) for k in range(2, 10) if k * 10.0 ** e < ymax * 0.999]
    xsc = alt.Scale(domain=[0, 250], nice=False, zero=False)
    ysc = alt.Scale(type="log", domain=[ymin, ymax], nice=False)
    xax = alt.Axis(values=X_MAJOR, title="f (Hz)", grid=False, ticks=False, domainColor="black",
                   domainWidth=2, labelFont="Liberation Sans", labelFontSize=15, labelColor="black",
                   labelPadding=4, labelFlush=False, titleFont="Liberation Sans", titleFontSize=18,
                   titleFontWeight="bold", titleColor="black", titlePadding=0, zindex=1)
    yax = alt.Axis(values=decades, labelExpr=LABEL_EXPR, title="λᵢ", grid=False, ticks=False,
                   domainColor="black", domainWidth=2, labelFont="Liberation Sans", labelFontSize=15,
                   labelColor="black", labelPadding=3, labelFlush=False, titleFont="DejaVu Sans",
                   titleFontSize=18, titleFontWeight="normal", titleColor="black", titlePadding=0, zindex=1)
    X = alt.X("f:Q", scale=xsc, axis=xax)
    Y = alt.Y("v:Q", scale=ysc, axis=yax)

    gy_minor = alt.Chart(pd.DataFrame({"v": minor})).mark_rule(
        color="#cccccc", strokeWidth=0.8, strokeDash=[1.5, 1.5]).encode(y=Y)
    gx_minor = alt.Chart(pd.DataFrame({"f": X_MINOR})).mark_rule(
        color="#cccccc", strokeWidth=0.8, strokeDash=[1.5, 1.5]).encode(x=X)
    gy_major = alt.Chart(pd.DataFrame({"v": decades})).mark_rule(
        color="#8a8a8a", strokeWidth=1).encode(y=Y)
    gx_major = alt.Chart(pd.DataFrame({"f": X_MAJOR[1:-1]})).mark_rule(
        color="#8a8a8a", strokeWidth=1).encode(x=X)
    lines = alt.Chart(df[df.panel == key]).mark_line(
        color=BLUE, strokeWidth=2, clip=True).encode(x=X, y=Y, detail="mode:N", order="f:Q")
    ty_major = alt.Chart(pd.DataFrame({"v": decades})).mark_rule(
        color="black", strokeWidth=2).encode(y=Y, x=alt.value(0), x2=alt.value(10))
    ty_minor = alt.Chart(pd.DataFrame({"v": minor})).mark_rule(
        color="black", strokeWidth=1).encode(y=Y, x=alt.value(0), x2=alt.value(5))
    tx_major = alt.Chart(pd.DataFrame({"f": X_MAJOR})).mark_rule(
        color="black", strokeWidth=2).encode(x=X, y=alt.value(height), y2=alt.value(height - 10))
    tx_minor = alt.Chart(pd.DataFrame({"f": X_MINOR})).mark_rule(
        color="black", strokeWidth=1).encode(x=X, y=alt.value(height), y2=alt.value(height - 5))

    return alt.layer(gy_minor, gx_minor, gy_major, gx_major, lines,
                     ty_major, ty_minor, tx_major, tx_minor).properties(
        width=width, height=height,
        title=alt.TitleParams(text=caption, orient="bottom", anchor="middle", frame="bounds",
                              font="DejaVu Serif", fontSize=25, fontWeight="normal",
                              color="black", offset=cap_offset))


pa = make_panel("a", -1, 5, 1e5, "(a) Vitesse", 495, 457, 33)
pb = make_panel("b", 6, 12, 1e12, "(b) Pression", 494, 457, 33)
pc = make_panel("c", -2, 2, 200, "(c) Fraction volumique", 494, 455, 30)

chart = alt.vconcat(alt.hconcat(pa, pb, spacing=45), pc, spacing=12, center=True).configure_view(
    stroke="#999999", strokeWidth=1).properties(padding={"left": 2, "top": 2, "right": 0, "bottom": 0})

chart.save("out.html", embed_options={"renderer": "svg", "actions": False})
